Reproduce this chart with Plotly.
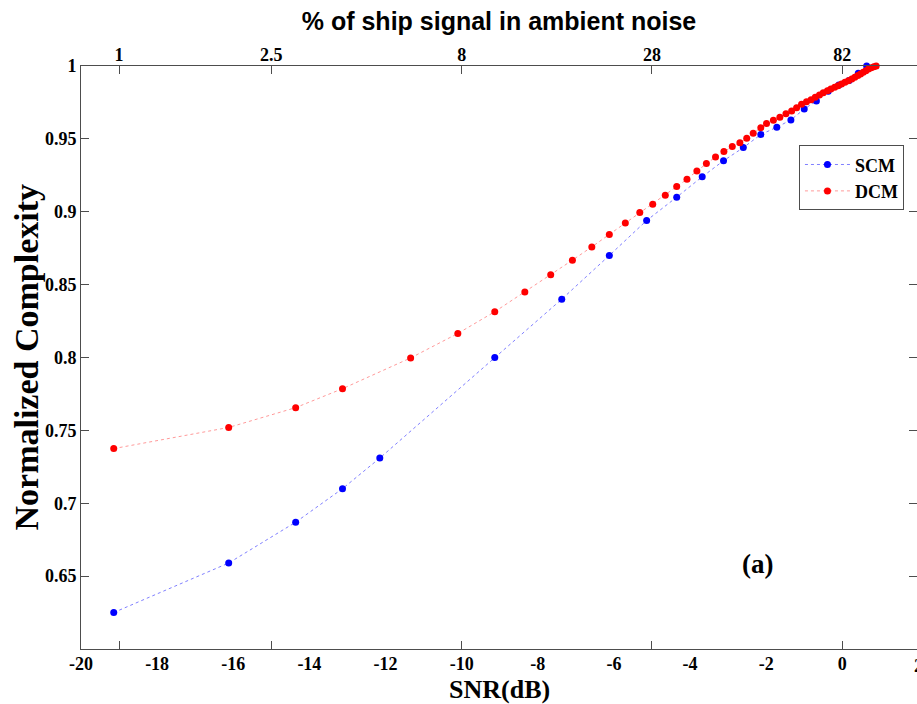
import plotly.graph_objects as go

# ---- data ----
snr_scm = [-19.14, -16.12, -14.36, -13.13, -12.15, -9.13, -7.37, -6.12, -5.14, -4.35,
           -3.68, -3.12, -2.60, -2.14, -1.72, -1.35, -1.00, -0.68, -0.37, -0.09,
           0.18, 0.42, 0.64]
scm = [0.625, 0.659, 0.687, 0.710, 0.731, 0.800, 0.840, 0.870, 0.894, 0.910,
       0.924, 0.935, 0.944, 0.953, 0.958, 0.963, 0.9705, 0.976, 0.9827, 0.987,
       0.990, 0.995, 1.0]

snr_dcm = [-19.14, -16.12, -14.36, -13.13, -11.34, -10.10, -9.13, -8.34, -7.66, -7.09,
           -6.58, -6.12, -5.70, -5.32, -4.98, -4.65, -4.35, -4.08, -3.82, -3.57,
           -3.33, -3.11, -2.89, -2.69, -2.51, -2.34, -2.14, -1.99, -1.81, -1.64,
           -1.48, -1.33, -1.20, -1.07, -0.94, -0.82, -0.71, -0.60, -0.50, -0.39,
           -0.30, -0.20, -0.11, -0.02, 0.07, 0.16, 0.25, 0.33, 0.41, 0.48,
           0.55, 0.62, 0.69, 0.76, 0.83, 0.89]
dcm = [0.7375, 0.752, 0.7656, 0.7786, 0.7997, 0.8165, 0.8314, 0.8449, 0.8568, 0.8668,
       0.8759, 0.8844, 0.8922, 0.8995, 0.9052, 0.9114, 0.9173, 0.9223, 0.928, 0.9331,
       0.9376, 0.9413, 0.9447, 0.9474, 0.9504, 0.9539, 0.9577, 0.9605, 0.9628, 0.9648,
       0.9673, 0.9692, 0.9714, 0.9737, 0.9755, 0.9769, 0.9785, 0.9801, 0.9817, 0.9831,
       0.9842, 0.9854, 0.9865, 0.9877, 0.9888, 0.9899, 0.9911, 0.9922, 0.9934, 0.9945,
       0.9957, 0.9968, 0.9979, 0.9988, 0.9995, 1.0]

snr_ticks = [-20, -18, -16, -14, -12, -10, -8, -6, -4, -2, 0]
snr_ticktext = ["-20", "-18", "-16", "-14", "-12", "-10", "-8", "-6", "-4", "-2", "0"]
pct_tickpos = [-19, -15, -10, -5, 0]
pct_ticktext = ["1", "2.5", "8", "28", "82"]
y_ticks = [0.65, 0.7, 0.75, 0.8, 0.85, 0.9, 0.95, 1.0]
y_ticktext = ["0.65", "0.7", "0.75", "0.8", "0.85", "0.9", "0.95", "1"]

SERIF = "Liberation Serif"
AXC = "#4d4d4d"
XR = [-20, 1.963]
YR = [0.6, 1.0]


def bold(labels):
    return ["<b>%s</b>" % s for s in labels]


fig = go.Figure()
fig.add_trace(go.Scatter(
    x=snr_scm, y=scm, mode="lines+markers", name="<b>SCM</b>",
    line=dict(color="rgba(0,0,255,0.5)", width=1, dash="dot"),
    marker=dict(color="#0000ff", size=7), cliponaxis=False))
fig.add_trace(go.Scatter(
    x=snr_dcm, y=dcm, mode="lines+markers", name="<b>DCM</b>",
    line=dict(color="rgba(255,0,0,0.4)", width=1, dash="dot"),
    marker=dict(color="#ff0000", size=7), cliponaxis=False))
# empty helper traces so that the top and right axes get drawn
fig.add_trace(go.Scatter(x=[None], y=[None], xaxis="x2", yaxis="y",
                         showlegend=False, hoverinfo="skip"))
fig.add_trace(go.Scatter(x=[None], y=[None], xaxis="x", yaxis="y2",
                         showlegend=False, hoverinfo="skip"))

tickfont = dict(family=SERIF, size=18, color="black")

fig.update_layout(
    width=917, height=704,
    margin=dict(l=81, r=0, t=66, b=55),
    paper_bgcolor="white", plot_bgcolor="white",
    font=dict(family=SERIF, size=18, color="black"),
    showlegend=True,
    legend=dict(x=0.8588, y=0.864, xanchor="left", yanchor="top",
                bgcolor="white", bordercolor=AXC, borderwidth=1,
                font=dict(family=SERIF, size=18, color="black"),
                itemwidth=45, tracegroupgap=0),
    title=dict(text="<b>% of ship signal in ambient noise</b>", xref="paper", x=0.5,
               xanchor="center", y=1 - 21 / 704, yanchor="middle",
               font=dict(family="Liberation Sans", size=25, color="black")),
    xaxis=dict(range=XR, tickvals=snr_ticks, ticktext=bold(snr_ticktext), ticks="",
               showline=False, showgrid=False, zeroline=False, tickfont=tickfont,
               ticklabelstandoff=2),
    xaxis2=dict(range=XR, overlaying="x", side="top", anchor="y",
                tickvals=pct_tickpos, ticktext=bold(pct_ticktext), ticks="inside",
                ticklen=8, tickcolor=AXC, showline=True, linecolor=AXC,
                linewidth=1, mirror="ticks", showgrid=False, zeroline=False,
                tickfont=tickfont, ticklabelstandoff=-3),
    yaxis=dict(range=YR, tickvals=y_ticks, ticktext=bold(y_ticktext), ticks="inside",
               ticklen=8, tickcolor=AXC, showline=True, linecolor=AXC, linewidth=1,
               showgrid=False, zeroline=False, tickfont=tickfont),
    yaxis2=dict(range=YR, overlaying="y", side="right", anchor="x",
                tickvals=y_ticks, ticks="inside", ticklen=8, tickcolor=AXC,
                showticklabels=False, showline=False, showgrid=False,
                zeroline=False),
)

# axis titles and labels as annotations
fig.add_annotation(text="<b>SNR(dB)</b>", xref="paper", x=0.5, yref="paper", y=0,
                   yshift=-40, xanchor="center", yanchor="middle", showarrow=False,
                   font=dict(family=SERIF, size=26, color="black"))
fig.add_annotation(text="<b>Normalized Complexity</b>", xref="paper", x=0, xshift=-55,
                   yref="paper", y=0.5, textangle=-90, xanchor="center",
                   yanchor="middle", showarrow=False,
                   font=dict(family=SERIF, size=34, color="black"))
fig.add_annotation(text="<b>2</b>", xref="paper", x=1.0017, yref="paper", y=0,
                   yshift=-17, xanchor="center", yanchor="middle", showarrow=False,
                   font=tickfont)
fig.add_annotation(text="<b>(a)</b>", xref="x", x=-2.23, yref="y", y=0.658,
                   xanchor="center", yanchor="middle", showarrow=False,
                   font=dict(family=SERIF, size=27, color="black"))

fig.write_html("out.html")
